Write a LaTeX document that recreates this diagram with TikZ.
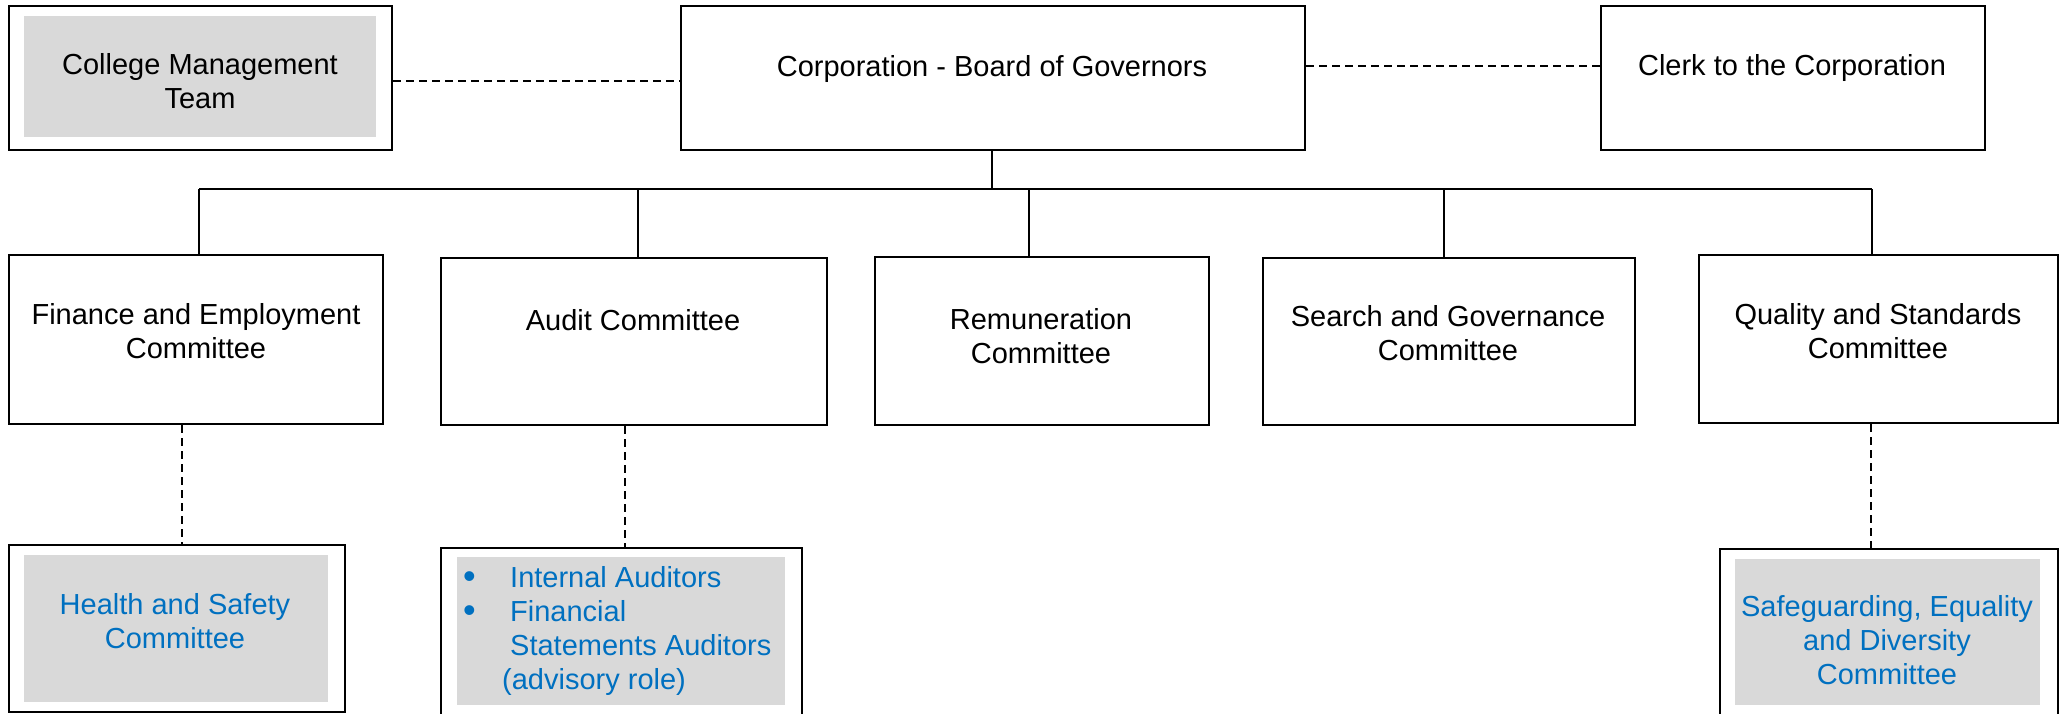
\documentclass[tikz,border=0pt]{standalone}
\usepackage{fontspec}
\setmainfont{Liberation Sans}
\definecolor{shade}{HTML}{D9D9D9}
\definecolor{linkblue}{HTML}{0070C0}
\begin{document}
\begin{tikzpicture}[x=1pt,y=-1pt,
  box/.style={draw=black, line width=2pt, inner sep=0pt, anchor=north west, fill=white},
  graybox/.style={fill=shade, inner sep=0pt, anchor=north west},
  txt/.style={font=\fontsize{29}{34}\selectfont, align=center, inner sep=0pt},
  bluetxt/.style={txt, text=linkblue},
  conn/.style={line width=1.5pt},
  dotconn/.style={line width=1.5pt, dash pattern=on 8pt off 5pt}]
\clip (0,0) rectangle (2066,713);
\fill[white] (0,0) rectangle (2066,713);

% top row
\node[box, minimum width=383pt, minimum height=144pt] (cmt) at (8,5) {};
\node[graybox, minimum width=352pt, minimum height=121pt] (cmtg) at (24,16) {};
\node[txt, text=black] (cmtt) at (200,81) {College Management\\Team};

\node[box, minimum width=624pt, minimum height=144pt] (corp) at (680,5) {};
\node[txt] (corpt) at (992,69) {Corporation - Board of Governors};

\node[box, minimum width=384pt, minimum height=144pt] (clerk) at (1600,5) {};
\node[txt] (clerkt) at (1792,68) {Clerk to the Corporation};

\draw[dotconn] ([yshift=-3pt]cmt.east) -- ([yshift=-3pt]corp.west);
\draw[dotconn] ([yshift=12pt]corp.east) -- ([yshift=12pt]clerk.west);

% committees
\node[box, minimum width=374pt, minimum height=169pt] (fin) at (8,254) {};
\node[txt] (fint) at (196,331) {Finance and Employment\\Committee};

\node[box, minimum width=386pt, minimum height=167pt] (aud) at (440,257) {};
\node[txt] (audt) at (633,320) {Audit Committee};

\node[box, minimum width=334pt, minimum height=168pt] (rem) at (874,256) {};
\node[txt] (remt) at (1041,336) {Remuneration\\Committee};

\node[box, minimum width=372pt, minimum height=167pt] (sea) at (1262,257) {};
\node[txt] (seat) at (1448,333) {Search and Governance\\Committee};

\node[box, minimum width=359pt, minimum height=168pt] (qua) at (1698,254) {};
\node[txt] (quat) at (1878,331) {Quality and Standards\\Committee};

% bus
\coordinate (b0) at (992,189);
\coordinate (b1) at (199,189);
\coordinate (b2) at (638,189);
\coordinate (b3) at (1029,189);
\coordinate (b4) at (1444,189);
\coordinate (b5) at (1872,189);
\draw[conn] (corp.south -| b0) -- (b0);
\draw[line width=2pt] (b1) -- (b5);
\draw[conn] (b1) -- (b1 |- fin.north);
\draw[conn] (b2) -- (b2 |- aud.north);
\draw[conn] (b3) -- (b3 |- rem.north);
\draw[conn] (b4) -- (b4 |- sea.north);
\draw[conn] (b5) -- (b5 |- qua.north);

% bottom row
\node[box, minimum width=336pt, minimum height=167pt] (hs) at (8,544) {};
\node[graybox, minimum width=304pt, minimum height=147pt] (hsg) at (24,555) {};
\node[bluetxt] (hst) at (175,621) {Health and Safety\\Committee};

\node[box, minimum width=361pt, minimum height=180pt] (aa) at (440,547) {};
\node[graybox, minimum width=328pt, minimum height=148pt] (aag) at (457,557) {};
\node[bluetxt, align=left, anchor=north west] (aat) at (461,566)
  {\makebox[49pt][l]{\hspace*{2pt}\raisebox{-1pt}{\fontsize{36}{34}\selectfont•}}Internal Auditors\\
   \makebox[49pt][l]{\hspace*{2pt}\raisebox{-1pt}{\fontsize{36}{34}\selectfont•}}Financial\\
   \hspace*{49pt}Statements Auditors\\
   \hspace*{41pt}(advisory role)};

\node[box, minimum width=338pt, minimum height=180pt] (sg) at (1719,548) {};
\node[graybox, minimum width=305pt, minimum height=146pt] (sgg) at (1735,559) {};
\node[bluetxt] (sgt) at (1887,640) {Safeguarding, Equality\\and Diversity\\Committee};

\draw[dotconn] (fin.south -| 182,0) -- (hs.north -| 182,0);
\draw[dotconn] (aud.south -| 625,0) -- (aa.north -| 625,0);
\draw[dotconn] (qua.south -| 1871,0) -- (sg.north -| 1871,0);
\end{tikzpicture}
\end{document}
